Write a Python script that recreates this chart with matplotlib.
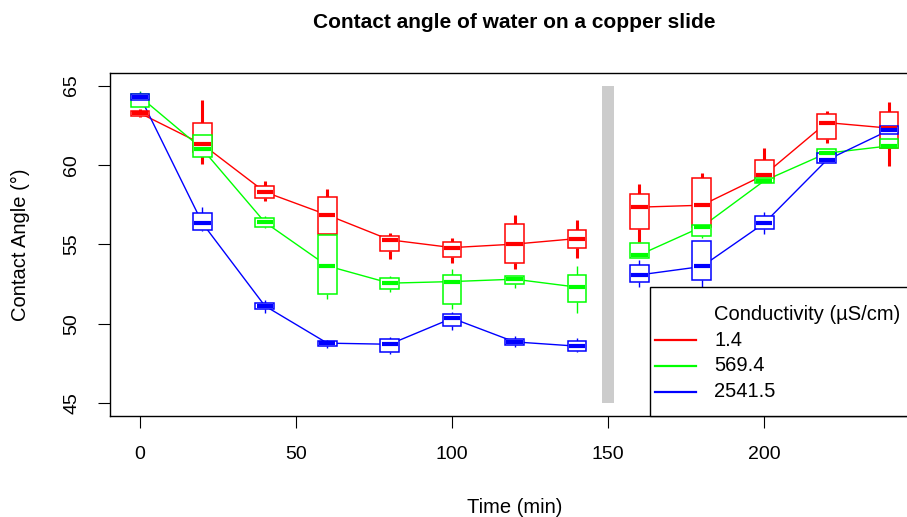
import numpy as np
import matplotlib
matplotlib.use('Agg')
import matplotlib.pyplot as plt
from matplotlib.patches import Rectangle

plt.rcParams['font.family'] = ['Liberation Sans', 'DejaVu Sans']

# sampling times (min); the gap between 140 and 160 is the break marker
times = [0, 20, 40, 60, 80, 100, 120, 140, 160, 180, 200, 220, 240]
break_time = 150

series_labels = ['1.4', '569.4', '2541.5']
series_colors = ['#FF0000', '#00FF00', '#0000FF']

# box statistics (contact angle, degrees)
red_med = [63.26, 61.3, 58.3, 56.85, 55.28, 54.79, 55.01, 55.36, 57.34, 57.46, 59.37, 62.67, 62.32]
red_q3 = [63.43, 62.67, 58.7, 58.0, 55.55, 55.13, 56.3, 55.91, 58.18, 59.16, 60.32, 63.2, 63.32]
red_q1 = [63.09, 60.8, 57.9, 55.66, 54.6, 54.22, 53.83, 54.75, 55.97, 56.1, 59.1, 61.62, 61.06]
red_max = [63.5, 64.1, 59.0, 58.47, 55.74, 55.38, 56.85, 56.52, 58.79, 59.52, 61.06, 63.43, 63.95]
red_min = [63.03, 60.05, 57.7, 55.66, 54.1, 53.85, 53.45, 54.14, 55.13, 56.1, 59.1, 61.37, 59.94]

green_med = [64.3, 61.0, 56.39, 53.64, 52.55, 52.65, 52.8, 52.3, 54.33, 56.1, 59.0, 60.74, 61.2]
green_q3 = [64.48, 61.9, 56.68, 55.57, 52.86, 53.09, 53.01, 53.05, 55.07, 56.22, 59.2, 60.99, 61.62]
green_q1 = [63.68, 60.53, 56.08, 51.87, 52.17, 51.26, 52.49, 51.39, 54.12, 55.55, 58.85, 60.57, 61.09]
green_max = [64.68, 61.9, 56.79, 55.57, 52.97, 53.43, 53.01, 53.66, 55.07, 56.22, 59.2, 60.99, 61.62]
green_min = [63.68, 60.53, 56.01, 51.54, 51.98, 50.9, 52.27, 50.7, 54.12, 55.38, 58.85, 60.57, 61.09]

blue_med = [64.31, 56.33, 51.12, 48.77, 48.7, 50.34, 48.85, 48.58, 53.07, 53.6, 56.33, 60.3, 62.19]
blue_q3 = [64.45, 56.96, 51.33, 48.91, 49.04, 50.63, 49.04, 48.91, 53.7, 55.23, 56.79, 60.78, 62.48]
blue_q1 = [64.12, 55.91, 50.91, 48.6, 48.24, 49.86, 48.66, 48.3, 52.65, 52.75, 55.95, 60.15, 61.94]
blue_max = [64.6, 57.34, 51.5, 48.97, 49.18, 50.76, 49.23, 49.12, 54.0, 55.23, 57.06, 60.78, 62.48]
blue_min = [64.1, 55.84, 50.66, 48.45, 48.07, 49.59, 48.55, 48.2, 52.3, 52.3, 55.66, 60.15, 61.94]

stats = [
    (red_med, red_q1, red_q3, red_min, red_max),
    (green_med, green_q1, green_q3, green_min, green_max),
    (blue_med, blue_q1, blue_q3, blue_min, blue_max),
]
whisker_lw = [2.2, 1.0, 1.0]

fig = plt.figure(figsize=(9.07, 5.17), dpi=100)
ax = fig.add_axes([0.1213, 0.196, 0.892, 0.663])
ax.set_xlim(-9.6, 249.6)
ax.set_ylim(44.2, 65.8)

t = np.array(times)
before = t < break_time
after = t > break_time
box_w = 6.0

# connecting lines through the medians (two segments around the break)
for (med, q1, q3, lo, hi), col in zip(stats, series_colors):
    med = np.array(med)
    ax.plot(t[before], med[before], color=col, lw=1.0, zorder=1)
    ax.plot(t[after], med[after], color=col, lw=1.0, zorder=1)

# boxes and whiskers
for (med, q1, q3, lo, hi), col, wlw in zip(stats, series_colors, whisker_lw):
    for x, a, b, mn, mx in zip(times, q1, q3, lo, hi):
        ax.plot([x, x], [b, mx], color=col, lw=wlw, zorder=2, solid_capstyle='butt')
        ax.plot([x, x], [mn, a], color=col, lw=wlw, zorder=2, solid_capstyle='butt')
        ax.add_patch(Rectangle((x - box_w / 2, a), box_w, b - a, facecolor='white',
                               edgecolor=col, lw=1.1, zorder=3))

# medians on top
for (med, q1, q3, lo, hi), col in zip(stats, series_colors):
    for x, m in zip(times, med):
        ax.plot([x - box_w / 2 + 0.4, x + box_w / 2 - 0.4], [m, m], color=col, lw=3.0,
                zorder=4, solid_capstyle='butt')

# gray break bar
ax.add_patch(Rectangle((break_time - 2.1, 45), 4.1, 20, facecolor='#CCCCCC',
                       edgecolor='none', zorder=1))

ax.set_xticks([0, 50, 100, 150, 200])
ax.set_yticks([45, 50, 55, 60, 65])
ax.tick_params(axis='both', direction='out', length=8.6, width=0.8, labelsize=14, pad=13)
for lab in ax.get_yticklabels():
    lab.set_rotation(90)
    lab.set_va('center')
ax.spines['right'].set_visible(False)
for s in ['left', 'top', 'bottom']:
    ax.spines[s].set_linewidth(1.0)

fig.text(0.567, 0.957, 'Contact angle of water on a copper slide', ha='center', va='center',
         fontsize=15, fontweight='bold')
fig.text(0.567, 0.019, 'Time (min)', ha='center', va='center', fontsize=14.5)
fig.text(0.023, 0.527, 'Contact Angle (°)', ha='center', va='center', rotation=90, fontsize=14.5)

# legend box in the bottom-right corner, running past the figure edge
ax.add_patch(Rectangle((0.6677, 0.0), 0.5, 0.3755, transform=ax.transAxes, facecolor='white',
                       edgecolor='black', lw=1.0, zorder=10, clip_on=False))
ax.text(0.7468, 0.2938, 'Conductivity (µS/cm)', transform=ax.transAxes, ha='left', va='center',
        fontsize=14.5, zorder=11)
leg_y = [0.2197, 0.1459, 0.070]
for y, lab, col in zip(leg_y, series_labels, series_colors):
    ax.plot([0.6738, 0.7245], [y, y], transform=ax.transAxes, color=col, lw=1.6, zorder=11,
            clip_on=False)
    ax.text(0.7468, y, lab, transform=ax.transAxes, ha='left', va='center', fontsize=14.5, zorder=11)

fig.savefig('out.png', dpi=100)
